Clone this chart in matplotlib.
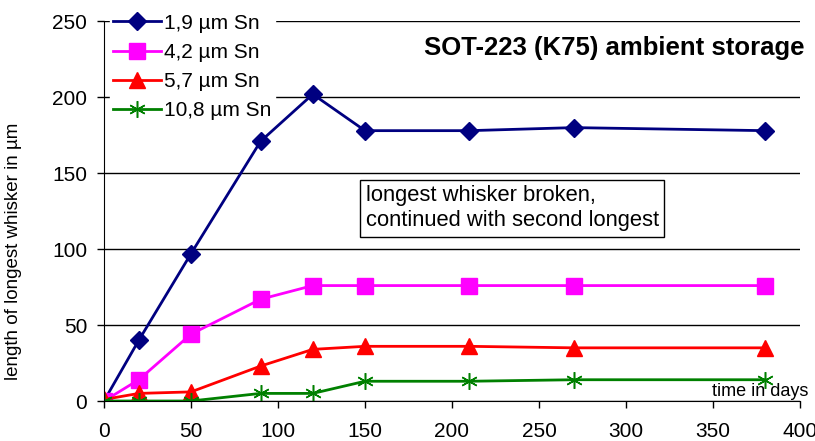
import matplotlib.pyplot as plt

plt.rcParams['font.family'] = ['Liberation Sans', 'DejaVu Sans']

days = [0, 20, 50, 90, 120, 150, 210, 270, 380]
sn_19 = [0, 40, 97, 171, 202, 178, 178, 180, 178]
sn_42 = [0, 14, 44, 67, 76, 76, 76, 76, 76]
sn_57 = [1, 5, 6, 23, 34, 36, 36, 35, 35]
sn_108 = [0, 0, 0, 5, 5, 13, 13, 14, 14]
labels = ['1,9 µm Sn', '4,2 µm Sn', '5,7 µm Sn', '10,8 µm Sn']

fig = plt.figure(figsize=(8.15, 4.41), dpi=100)
ax = fig.add_axes([0.1276, 0.0907, 0.854, 0.861])

ax.plot(days, sn_19, color='#000080', lw=2, marker='D', ms=9, label=labels[0])
ax.plot(days, sn_42, color='#ff00ff', lw=2, marker='s', ms=11, label=labels[1])
ax.plot(days, sn_57, color='#ff0000', lw=2, marker='^', ms=12, label=labels[2])
ax.plot(days, sn_108, color='#008000', lw=2, marker=(6, 2, 0), ms=12, mew=1.1,
        label=labels[3])

ax.set_xlim(0, 400)
ax.set_ylim(0, 250)
ax.set_xticks(range(0, 401, 50))
ax.set_yticks(range(0, 251, 50))
ax.yaxis.grid(True, color='black', lw=1)
ax.set_axisbelow(True)
for s in ['top', 'right']:
    ax.spines[s].set_visible(False)
ax.tick_params(direction='out', labelsize=15, length=5, width=1)
ax.tick_params(axis='y', pad=7)
ax.tick_params(axis='x', pad=10)
ax.set_ylabel('length of longest whisker in µm', fontsize=13.5)
ax.yaxis.set_label_coords(-0.118, 0.395)

ax.text(1.007, 0.93, 'SOT-223 (K75) ambient storage', transform=ax.transAxes,
        ha='right', va='center', fontsize=18.5, fontweight='bold')
ax.text(0.376, 0.508, 'longest whisker broken,\ncontinued with second longest',
        transform=ax.transAxes, ha='left', va='center', fontsize=15.8,
        linespacing=1.25,
        bbox=dict(boxstyle='square,pad=0.25', fc='white', ec='black', lw=1))
ax.text(1.012, 0.003, 'time in days', transform=ax.transAxes, ha='right',
        va='bottom', fontsize=13)

leg = ax.legend(loc='upper left', bbox_to_anchor=(110 / 815, 0.976),
                bbox_transform=fig.transFigure, frameon=True,
                fontsize=15, handlelength=2.3, labelspacing=0.49,
                borderpad=0.15, handletextpad=0.15, borderaxespad=0)
leg.get_frame().set_edgecolor('white')
leg.get_frame().set_alpha(1)
leg.get_frame().set_boxstyle('square', pad=0.0)

fig.savefig('out.png', dpi=100)
